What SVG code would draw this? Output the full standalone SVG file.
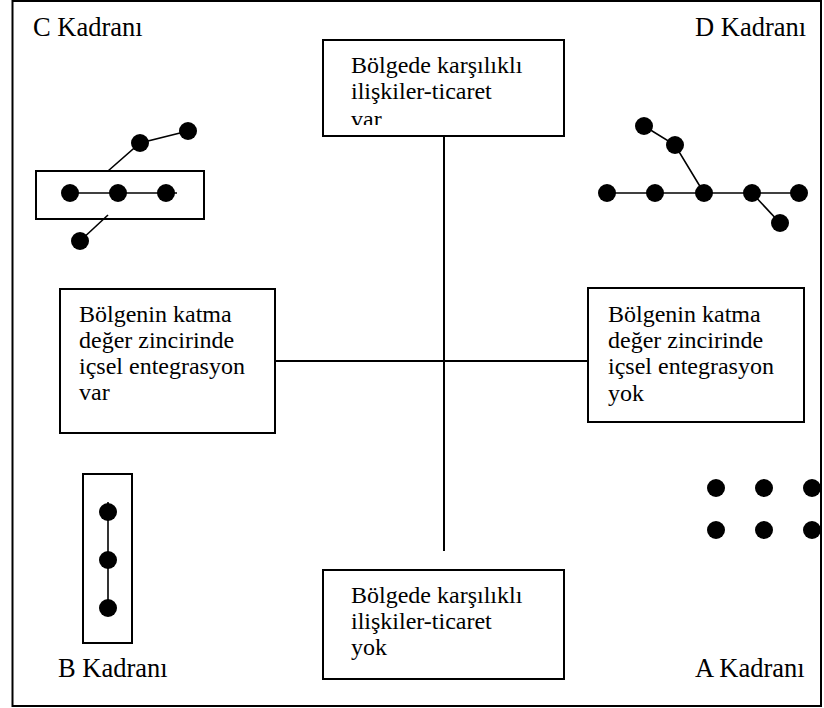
<svg xmlns="http://www.w3.org/2000/svg" width="824" height="708" viewBox="0 0 824 708">
<style>
text{font-family:"Liberation Serif","DejaVu Serif","Times New Roman",Times,serif;font-size:24px;fill:#000}
text.q{font-size:26.5px}
.box{fill:#fff;stroke:#000;stroke-width:2}
.conn{stroke:#000;stroke-width:2;fill:none}
.edge{stroke:#000;stroke-width:1.6;fill:none}
.dot{fill:#000}
</style>
<defs>
<clipPath id="clipTop"><rect x="323" y="40" width="241" height="85"/></clipPath>
</defs>
<rect x="12.5" y="1" width="808.5" height="705" fill="#fff" stroke="#000" stroke-width="2"/>
<g id="labels" font-family="Liberation Serif, serif">
<text class="q" x="33" y="36" font-family="Liberation Serif, serif">C Kadranı</text>
<text class="q" x="695" y="36" font-family="Liberation Serif, serif">D Kadranı</text>
<text class="q" x="58" y="677" font-family="Liberation Serif, serif">B Kadranı</text>
<text class="q" x="695" y="677" font-family="Liberation Serif, serif">A Kadranı</text>
</g>
<g id="connectors">
<line class="conn" x1="444" y1="120" x2="444" y2="551"/>
<line class="conn" x1="275" y1="361" x2="592" y2="361"/>
</g>
<g id="node-top" font-family="Liberation Serif, serif">
<rect class="box" x="323" y="40" width="241" height="96"/>
<g clip-path="url(#clipTop)">
<text x="351" y="73">Bölgede karşılıklı</text>
<text x="351" y="98.5">ilişkiler-ticaret</text>
<text x="351" y="127">var</text>
</g>
</g>
<g id="node-bottom" font-family="Liberation Serif, serif">
<rect class="box" x="323" y="570" width="241" height="109"/>
<text x="351" y="603">Bölgede karşılıklı</text>
<text x="351" y="628.5">ilişkiler-ticaret</text>
<text x="351" y="655">yok</text>
</g>
<g id="node-left" font-family="Liberation Serif, serif">
<rect class="box" x="60" y="289" width="215" height="144"/>
<text x="79" y="322">Bölgenin katma</text>
<text x="79" y="348">değer zincirinde</text>
<text x="79" y="374">içsel entegrasyon</text>
<text x="79" y="400">var</text>
</g>
<g id="node-right" font-family="Liberation Serif, serif">
<rect class="box" x="588" y="288" width="216" height="134"/>
<text x="608" y="322">Bölgenin katma</text>
<text x="608" y="348">değer zincirinde</text>
<text x="608" y="374">içsel entegrasyon</text>
<text x="608" y="401">yok</text>
</g>
<g id="graph-c">
<rect class="box" x="36" y="171" width="168" height="48" fill="none"/>
<line class="edge" x1="70" y1="193" x2="177" y2="193"/>
<polyline class="edge" points="188,131 140,143 108,171"/>
<line class="edge" x1="80" y1="241" x2="108" y2="215"/>
<circle class="dot" cx="70" cy="193" r="9"/>
<circle class="dot" cx="118" cy="193" r="9"/>
<circle class="dot" cx="166" cy="193" r="9"/>
<circle class="dot" cx="140" cy="143" r="9"/>
<circle class="dot" cx="188" cy="131" r="9"/>
<circle class="dot" cx="80" cy="241" r="9"/>
</g>
<g id="graph-d">
<line class="edge" x1="607" y1="193" x2="799" y2="193"/>
<polyline class="edge" points="644,126 675,145 704,193"/>
<line class="edge" x1="752" y1="193" x2="780" y2="223"/>
<circle class="dot" cx="607" cy="193" r="9"/>
<circle class="dot" cx="655" cy="193" r="9"/>
<circle class="dot" cx="704" cy="193" r="9"/>
<circle class="dot" cx="752" cy="193" r="9"/>
<circle class="dot" cx="799" cy="193" r="9"/>
<circle class="dot" cx="644" cy="126" r="9"/>
<circle class="dot" cx="675" cy="145" r="9"/>
<circle class="dot" cx="780" cy="223" r="9"/>
</g>
<g id="graph-b">
<rect class="box" x="83" y="474" width="49" height="169"/>
<line class="edge" x1="108" y1="502" x2="108" y2="608"/>
<circle class="dot" cx="108" cy="512" r="9"/>
<circle class="dot" cx="108" cy="560" r="9"/>
<circle class="dot" cx="108" cy="608" r="9"/>
</g>
<g id="graph-a">
<circle class="dot" cx="716" cy="488" r="9"/>
<circle class="dot" cx="764" cy="488" r="9"/>
<circle class="dot" cx="812" cy="488" r="9"/>
<circle class="dot" cx="716" cy="530" r="9"/>
<circle class="dot" cx="764" cy="530" r="9"/>
<circle class="dot" cx="812" cy="530" r="9"/>
</g>
</svg>
